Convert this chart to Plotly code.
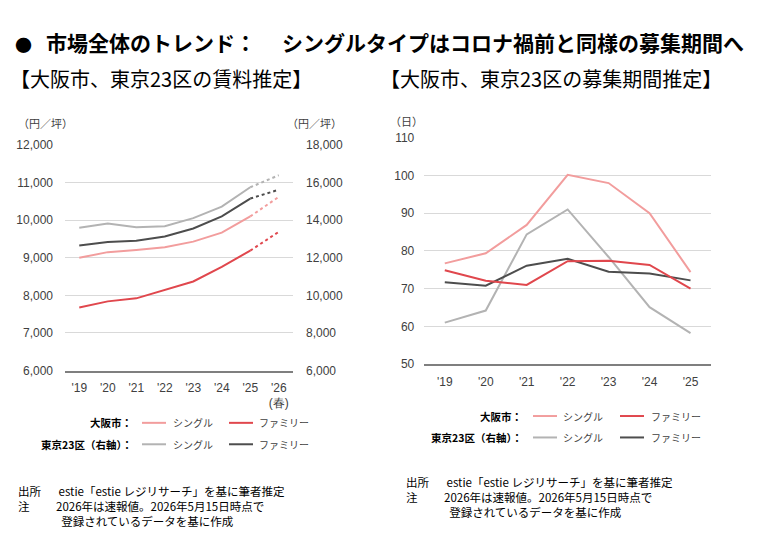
import plotly.graph_objects as go

W, H = 780, 536

# ---------------- data ----------------
rent_years = ["'19", "'20", "'21", "'22", "'23", "'24", "'25", "'26<br>(春)"]
osaka_single_rent = [9000, 9150, 9210, 9280, 9430, 9670, 10100, 10620]
osaka_family_rent = [7680, 7840, 7920, 8140, 8370, 8760, 9190, 9690]
tokyo_single_rent = [13600, 13820, 13630, 13680, 14110, 14720, 15750, 16390]
tokyo_family_rent = [12650, 12840, 12900, 13130, 13560, 14200, 15150, 15620]

period_years = ["'19", "'20", "'21", "'22", "'23", "'24", "'25"]
osaka_single_days = [76.7, 79.4, 86.9, 100.2, 98.0, 90.0, 74.4]
osaka_family_days = [74.9, 72.1, 71.0, 77.3, 77.4, 76.3, 70.0]
tokyo_single_days = [61.0, 64.2, 84.4, 91.0, 78.4, 65.1, 58.2]
tokyo_family_days = [71.7, 70.8, 76.1, 77.9, 74.5, 74.0, 72.2]

left_ticks = [6000, 7000, 8000, 9000, 10000, 11000, 12000]
right_ticks = [6000, 8000, 10000, 12000, 14000, 16000, 18000]
day_ticks = [50, 60, 70, 80, 90, 100, 110]

C_OS = "#f29d9d"
C_OF = "#e0474d"
C_TS = "#b3b3b3"
C_TF = "#4d4d4d"
FONT = "Liberation Sans, Arial, sans-serif"
JFONT = "Noto Sans CJK JP, sans-serif"
TXT = "#404040"


def px(x):
    return x / W


def py(y):
    return 1 - y / H


fig = go.Figure()

# ---------- left chart (rent) ----------
n_solid = 7
for vals, col, ax in [
    (tokyo_single_rent, C_TS, "y2"),
    (tokyo_family_rent, C_TF, "y2"),
    (osaka_single_rent, C_OS, "y"),
    (osaka_family_rent, C_OF, "y"),
]:
    fig.add_trace(go.Scatter(x=rent_years[:n_solid], y=vals[:n_solid], mode="lines",
                             line=dict(color=col, width=2), xaxis="x", yaxis=ax,
                             showlegend=False, hoverinfo="skip"))
    fig.add_trace(go.Scatter(x=rent_years[n_solid - 1:], y=vals[n_solid - 1:], mode="lines",
                             line=dict(color=col, width=2, dash="dot"), xaxis="x", yaxis=ax,
                             showlegend=False, hoverinfo="skip"))

# ---------- right chart (days) ----------
for vals, col in [
    (tokyo_single_days, C_TS),
    (osaka_single_days, C_OS),
    (tokyo_family_days, C_TF),
    (osaka_family_days, C_OF),
]:
    fig.add_trace(go.Scatter(x=period_years, y=vals, mode="lines",
                             line=dict(color=col, width=2), xaxis="x2", yaxis="y3",
                             showlegend=False, hoverinfo="skip"))

L_x0, L_x1, L_y0, L_y1 = 65, 293, 141.7, 373.3
R_x0, R_x1, R_y0, R_y1 = 424.3, 711, 134.3, 366.7

tickfont = dict(family=FONT, size=12, color=TXT)

fig.update_layout(
    width=W, height=H, margin=dict(l=0, r=0, t=0, b=0),
    paper_bgcolor="white", plot_bgcolor="white",
    xaxis=dict(domain=[px(L_x0), px(L_x1)], type="category", range=[-0.5, 7.5],
               showgrid=False, showline=True, linecolor="#7f7f7f", linewidth=1.5,
               tickfont=tickfont, ticks="", ticklabelstandoff=5, anchor="y", fixedrange=True),
    yaxis=dict(domain=[py(L_y1), py(L_y0)], range=[6000, 12000], tickvals=left_ticks,
               tickformat=",", showgrid=True, gridcolor="#d9d9d9", gridwidth=1,
               zeroline=False, showline=False, tickfont=tickfont, ticks="",
               ticklabelstandoff=11, anchor="x"),
    yaxis2=dict(overlaying="y", side="right", range=[6000, 18000], tickvals=right_ticks,
                tickformat=",", showgrid=False, zeroline=False, showline=False,
                tickfont=tickfont, ticks="", ticklabelstandoff=12, anchor="x"),
    xaxis2=dict(domain=[px(R_x0), px(R_x1)], type="category", range=[-0.5, 6.5],
                showgrid=False, showline=True, linecolor="#7f7f7f", linewidth=1.5,
                tickfont=tickfont, ticks="", ticklabelstandoff=6, anchor="y3"),
    yaxis3=dict(domain=[py(R_y1), py(R_y0)], range=[50, 110], tickvals=day_ticks,
                showgrid=True, gridcolor="#d9d9d9", gridwidth=1, zeroline=False,
                showline=False, tickfont=tickfont, ticks="", ticklabelstandoff=9,
                anchor="x2"),
)

ann = []


def text(x, y, s, size=12, bold=False, anchor="left", color="black", family=JFONT,
         yanchor="middle", align="left"):
    if bold:
        s = "<b>" + s + "</b>"
    ann.append(dict(x=px(x), y=py(y), xref="paper", yref="paper", text=s, showarrow=False,
                    xanchor=anchor, yanchor=yanchor, align=align, borderpad=0,
                    font=dict(family=family, size=size, color=color)))


# titles
text(14, 38, "●", size=17, bold=True)
text(45, 36, "市場全体のトレンド：", size=21, bold=True)
text(281, 36, "シングルタイプはコロナ禍前と同様の募集期間へ", size=21, bold=True)
text(9, 73, "【大阪市、東京23区の賃料推定】", size=20)
text(379, 73, "【大阪市、東京23区の募集期間推定】", size=20)

# axis unit labels
text(17, 119, "（円／坪）", size=11, color=TXT)
text(286, 119, "（円／坪）", size=11, color=TXT)
text(389, 117, "（日）", size=11, color=TXT)

# legends
shapes = []


def legend(xr, y1, y2, xs):
    # xs: line1 start, text1 start, line2 start, text2 start
    text(xr, y1, "大阪市：", size=10.5, bold=True, anchor="right")
    text(xr, y2, "東京23区（右軸）：", size=10.5, bold=True, anchor="right")
    for yy, c1, c2 in [(y1, C_OS, C_OF), (y2, C_TS, C_TF)]:
        shapes.append(dict(type="line", xref="paper", yref="paper", x0=px(xs[0]), x1=px(xs[0] + 24),
                           y0=py(yy), y1=py(yy), line=dict(color=c1, width=2)))
        shapes.append(dict(type="line", xref="paper", yref="paper", x0=px(xs[2]), x1=px(xs[2] + 24),
                           y0=py(yy), y1=py(yy), line=dict(color=c2, width=2)))
        text(xs[1], yy, "シングル", size=10, color=TXT)
        text(xs[3], yy, "ファミリー", size=10, color=TXT)


legend(133, 427, 449, [142, 172, 229, 258])
legend(523, 420, 442, [533, 562, 620, 650])


# footnotes
def notes(x0, ytop, xb):
    text(x0, ytop, "出所<br>注", size=11.5, yanchor="top")
    text(xb, ytop, "\u00a0estie「estie レジリサーチ」を基に筆者推定<br>"
                   "2026年は速報値。2026年5月15日時点で<br>"
                   "\u00a0\u00a0登録されているデータを基に作成", size=11.5, yanchor="top")


notes(17, 488, 55)
notes(405, 479, 443)

fig.update_layout(annotations=ann, shapes=shapes)
fig.write_html("out.html")
